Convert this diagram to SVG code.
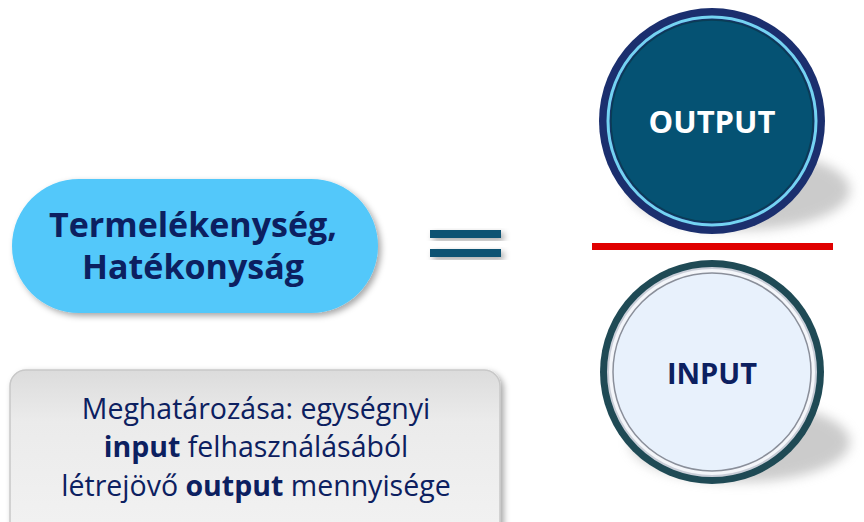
<svg xmlns="http://www.w3.org/2000/svg" width="864" height="522" viewBox="0 0 864 522">
<style>
.t{font-family:"Open Sans","Liberation Sans",sans-serif;text-anchor:middle}
.b{font-weight:bold}
</style>
<defs>
<filter id="sh" x="-20%" y="-20%" width="150%" height="150%">
<feDropShadow dx="3" dy="3" stdDeviation="3" flood-color="#000" flood-opacity="0.35"/>
</filter>
<filter id="blur" x="-30%" y="-30%" width="160%" height="160%">
<feGaussianBlur stdDeviation="6"/>
</filter>
<linearGradient id="gbox" x1="0" y1="0" x2="0" y2="1">
<stop offset="0" stop-color="#dcdcdc"/>
<stop offset="0.3" stop-color="#ebebeb"/>
<stop offset="1" stop-color="#f2f2f2"/>
</linearGradient>
</defs>
<rect width="864" height="522" fill="#fff"/>

<g id="hatekonysag">
<rect x="12" y="179" width="366" height="134" rx="67" fill="#52c8fa" filter="url(#sh)"/>
<text class="t b" x="193" y="237" font-size="34" fill="#0c2060">Termelékenység,</text>
<text class="t b" x="193" y="279" font-size="34" fill="#0c2060">Hatékonyság</text>
</g>

<g id="egyenlo">
<rect x="430" y="230" width="71" height="8" fill="#0b5273" filter="url(#sh)"/>
<rect x="430" y="249" width="71" height="8" fill="#0b5273" filter="url(#sh)"/>
</g>

<g id="output">
<ellipse cx="740" cy="190" rx="110" ry="40" fill="#999" opacity="0.5" filter="url(#blur)"/>
<circle cx="712" cy="121" r="113" fill="#1b2f6e"/>
<circle cx="712" cy="121" r="104" fill="none" stroke="#74d3f2" stroke-width="3"/>
<circle cx="712" cy="121" r="101" fill="#055273" stroke="#0a3d55" stroke-width="1.5"/>
<text class="t b" x="712" y="133" font-size="31" fill="#fff">OUTPUT</text>
</g>

<g id="tortvonal">
<rect x="592" y="243" width="241" height="7" fill="#e00000"/>
</g>

<g id="input">
<ellipse cx="740" cy="442" rx="110" ry="40" fill="#999" opacity="0.5" filter="url(#blur)"/>
<circle cx="712" cy="372" r="112" fill="#1f4a55"/>
<circle cx="712" cy="372" r="104" fill="#f4f6fa" stroke="#c9ced8" stroke-width="2"/>
<circle cx="712" cy="372" r="99" fill="#e8f1fc" stroke="#8a8f9a" stroke-width="1.5"/>
<text class="t b" x="712" y="384" font-size="29" fill="#0c2060">INPUT</text>
</g>

<g id="meghatarozas">
<rect x="10" y="370" width="490" height="170" rx="16" fill="url(#gbox)" stroke="#c8c8c8" stroke-width="1.5" filter="url(#sh)"/>
<text class="t" x="256" y="419" font-size="28.5" fill="#0c2060">Meghatározása: egységnyi</text>
<text class="t" x="256" y="457" font-size="28.5" fill="#0c2060"><tspan font-weight="bold">input</tspan> felhasználásából</text>
<text class="t" x="256" y="496" font-size="28.5" fill="#0c2060">létrejövő <tspan font-weight="bold">output</tspan> mennyisége</text>
</g>
</svg>
